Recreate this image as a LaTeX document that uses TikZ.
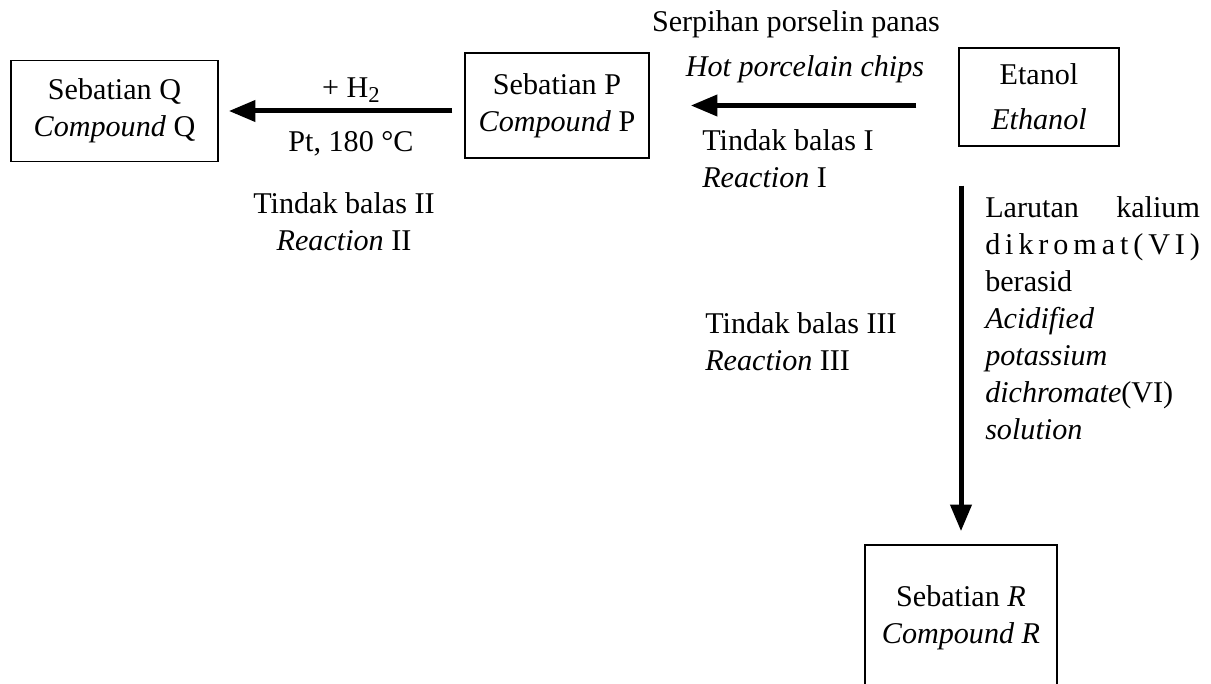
\documentclass[tikz,border=0pt]{standalone}
\usepackage{fontspec}
\setmainfont{Liberation Serif}
\usepackage{tikz}
\usetikzlibrary{arrows.meta,calc,positioning}

\begin{document}
\begin{tikzpicture}[x=0.75pt,y=-0.75pt,
    font=\fontsize{22.6pt}{27.75pt}\selectfont,
    box/.style={draw,line width=1.1pt,align=center,inner sep=0pt},
    rxn/.style={line width=3.75pt,-{Triangle[length=20pt,width=15.5pt]}},
    lbl/.style={inner sep=0pt}]
  \useasboundingbox (0,0) rectangle (1211,684);
  \clip (0,0) rectangle (1211,684);
  % compounds
  \node[box,minimum width=155.25pt,minimum height=75.75pt] (q) at (114.5,111)
    {Sebatian Q\\ \textit{Compound} Q};
  \node[box,minimum width=138pt,minimum height=78.75pt] (p) at (557,105.5)
    {Sebatian P\\ \textit{Compound} P};
  \node[box,minimum width=120pt,minimum height=73.5pt] (etanol) at (1039,97)
    {Etanol\\[6pt] \textit{Ethanol}};
  \node[box,minimum width=144pt,minimum height=109.5pt] (r) at (961,618)
    {Sebatian \textit{R}\\ \textit{Compound R}};
  % reaction I
  \draw[rxn,shorten <=31.5pt,shorten >=30.75pt] (etanol.west |- p.east) -- (p.east);
  \node[lbl,anchor=base] (condI) at (796,32) {Serpihan porselin panas};
  \node[lbl,anchor=base] (condIen) at (805,77) {\textit{Hot porcelain chips}};
  \node[lbl,anchor=north west,align=left] (rxnI) at (702,129.5)
    {Tindak balas I\\ \textit{Reaction} I};
  % reaction II
  \draw[rxn,shorten <=9pt,shorten >=7.5pt] (q.east -| p.west) -- (q.east);
  \node[lbl,anchor=base] (condIIa) at (351,98) {+ H\raisebox{-0.35ex}{\fontsize{17pt}{17pt}\selectfont 2}};
  \node[lbl,anchor=base] (condIIb) at (351,152) {Pt, 180 °C};
  \node[lbl,anchor=north,align=center] (rxnII) at (344,192.5)
    {Tindak balas II\\ \textit{Reaction} II};
  % reaction III
  \draw[rxn,shorten <=29.25pt,shorten >=9.75pt] (r.north |- etanol.south) -- (r.north);
  \node[lbl,anchor=north west,align=left] (rxnIII) at (705,312.5)
    {Tindak balas III\\ \textit{Reaction} III};
  \node[lbl,anchor=north west,align=left] (condIII) at (985,196.5)
    {\makebox[161pt][s]{Larutan\hfill kalium}\\
     \makebox[161pt][s]{d\hfill i\hfill k\hfill r\hfill o\hfill m\hfill a\hfill t\hfill (\hfill V\hfill I\hfill )}\\
     berasid\\
     \textit{Acidified}\\
     \textit{potassium}\\
     \textit{dichromate}(VI)\\
     \textit{solution}};
\end{tikzpicture}
\end{document}
